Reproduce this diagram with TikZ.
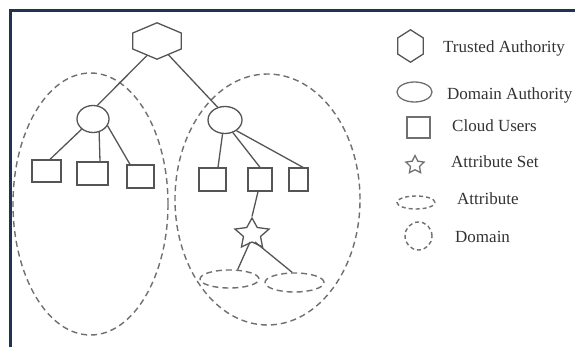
\documentclass[tikz,border=0pt]{standalone}
\usepackage{fontspec}
\setmainfont{Liberation Serif}
\usetikzlibrary{shapes.geometric,calc}
\definecolor{linegray}{HTML}{555555}
\definecolor{dashgray}{HTML}{707070}
\definecolor{textgray}{HTML}{333333}
\definecolor{framecol}{HTML}{1F3450}
\newcommand\drawhexagon[3]{%
  \coordinate (#1-ur) at ($(#1.north east)!#2!(#1.south east)$);
  \coordinate (#1-lr) at ($(#1.north east)!#3!(#1.south east)$);
  \coordinate (#1-ul) at ($(#1.north west)!#2!(#1.south west)$);
  \coordinate (#1-ll) at ($(#1.north west)!#3!(#1.south west)$);
  \draw[shapeline] (#1.north) -- (#1-ur) -- (#1-lr) -- (#1.south) -- (#1-ll) -- (#1-ul) -- cycle;
}
\begin{document}
\begin{tikzpicture}[x=1pt,y=-1pt,
  shapeline/.style={draw=linegray, line width=1.3pt},
  conn/.style={draw=linegray, line width=1.3pt},
  dashline/.style={draw=dashgray, line width=1.4pt, dash pattern=on 6pt off 4pt},
  hexbox/.style={rectangle, draw=none, inner sep=0pt},
  userbox/.style={rectangle, shapeline, inner sep=0pt},
  authell/.style={ellipse, shapeline, inner sep=0pt},
  domell/.style={ellipse, dashline, inner sep=0pt},
  attrell/.style={ellipse, dashline, inner sep=0pt},
  starshape/.style={star, star points=5, star point ratio=2, inner sep=0pt, shapeline},
  legtext/.style={anchor=base west, font=\fontsize{17}{19}\selectfont, text=textgray, inner sep=0pt}
]
\useasboundingbox (0,0) rectangle (575,347);
\fill[white] (0,0) rectangle (575,347);
% frame
\draw[framecol, line width=2.5pt] (9,10.5) -- (576,10.5);
\draw[framecol, line width=2.5pt] (10.5,9) -- (10.5,348);

% domains
\node[domell, minimum width=155pt, minimum height=262pt] (d1) at (90.5,204) {};
\node[domell, minimum width=185pt, minimum height=251pt] (d2) at (267.5,199.5) {};

% trusted authority
\node[hexbox, minimum width=48pt, minimum height=36pt] (ta) at (157,41) {};
\drawhexagon{ta}{0.28}{0.72}

% domain authorities
\node[authell, minimum width=32pt, minimum height=27pt] (da1) at (93,119) {};
\node[authell, minimum width=34pt, minimum height=27pt] (da2) at (225,120) {};

% users
\node[userbox, minimum width=29pt, minimum height=22pt] (s1) at (46.5,171) {};
\node[userbox, minimum width=31pt, minimum height=23pt] (s2) at (92.5,173.5) {};
\node[userbox, minimum width=27pt, minimum height=23pt] (s3) at (140.5,176.5) {};
\node[userbox, minimum width=27pt, minimum height=23pt] (s4) at (212.5,179.5) {};
\node[userbox, minimum width=24pt, minimum height=23pt] (s5) at (260,179.5) {};
\node[userbox, minimum width=19pt, minimum height=23pt] (s6) at (298.5,179.5) {};

% attribute set
\begin{scope}[shift={(252,234)}]
\node[starshape, minimum size=32pt, xscale=1.12, transform shape] (st) at (0,0) {};
\end{scope}

% attributes
\node[attrell, minimum width=59pt, minimum height=18pt] (a1) at (229.5,279) {};
\node[attrell, minimum width=59pt, minimum height=19pt] (a2) at (294.5,282.5) {};

% connectors
\draw[conn] ($(ta-ll)!0.6!(ta.south)$) -- (da1.72);
\draw[conn] ($(ta-lr)!0.54!(ta.south)$) -- (da2.120);
\draw[conn] (da1.222) -- ([xshift=3.5pt]s1.north);
\draw[conn] (da1.295) -- ([xshift=7.5pt]s2.north);
\draw[conn] (da1.335) -- ([xshift=-10.5pt]s3.north);
\draw[conn] (da2.260) -- ([xshift=5.5pt]s4.north);
\draw[conn] (da2.302) -- (s5.north);
\draw[conn] (da2.317) -- ([xshift=4.5pt]s6.north);
\draw[conn] ([xshift=-2pt]s5.south) -- (st.north);
\draw[conn] ([xshift=-2pt,yshift=-8pt]st.center) -- (a1.49);
\draw[conn] ([xshift=3pt,yshift=-8pt]st.center) -- (a2.103);

% legend
\node[hexbox, minimum width=25pt, minimum height=32pt] (lta) at (410.5,46) {};
\drawhexagon{lta}{0.25}{0.75}
\node[authell, draw=dashgray, minimum width=35pt, minimum height=20pt] (lda) at (414.5,92) {};
\node[userbox, draw=dashgray, minimum width=23pt, minimum height=21pt] (lcu) at (418.5,127.5) {};
\node[starshape, draw=dashgray, minimum size=19pt] (las) at (415,165) {};
\node[attrell, dash pattern=on 4pt off 3pt, minimum width=38pt, minimum height=13pt] (lat) at (416,202.5) {};
\node[domell, dash pattern=on 4pt off 3pt, minimum width=27pt, minimum height=28pt] (ldo) at (418.5,236) {};

\node[legtext] (t1) at (443,53) {Trusted Authority};
\node[legtext] (t2) at (447,100) {Domain Authority};
\node[legtext] (t3) at (452,132) {Cloud Users};
\node[legtext] (t4) at (451,168) {Attribute Set};
\node[legtext] (t5) at (457,205) {Attribute};
\node[legtext] (t6) at (455,243) {Domain};
\end{tikzpicture}
\end{document}
